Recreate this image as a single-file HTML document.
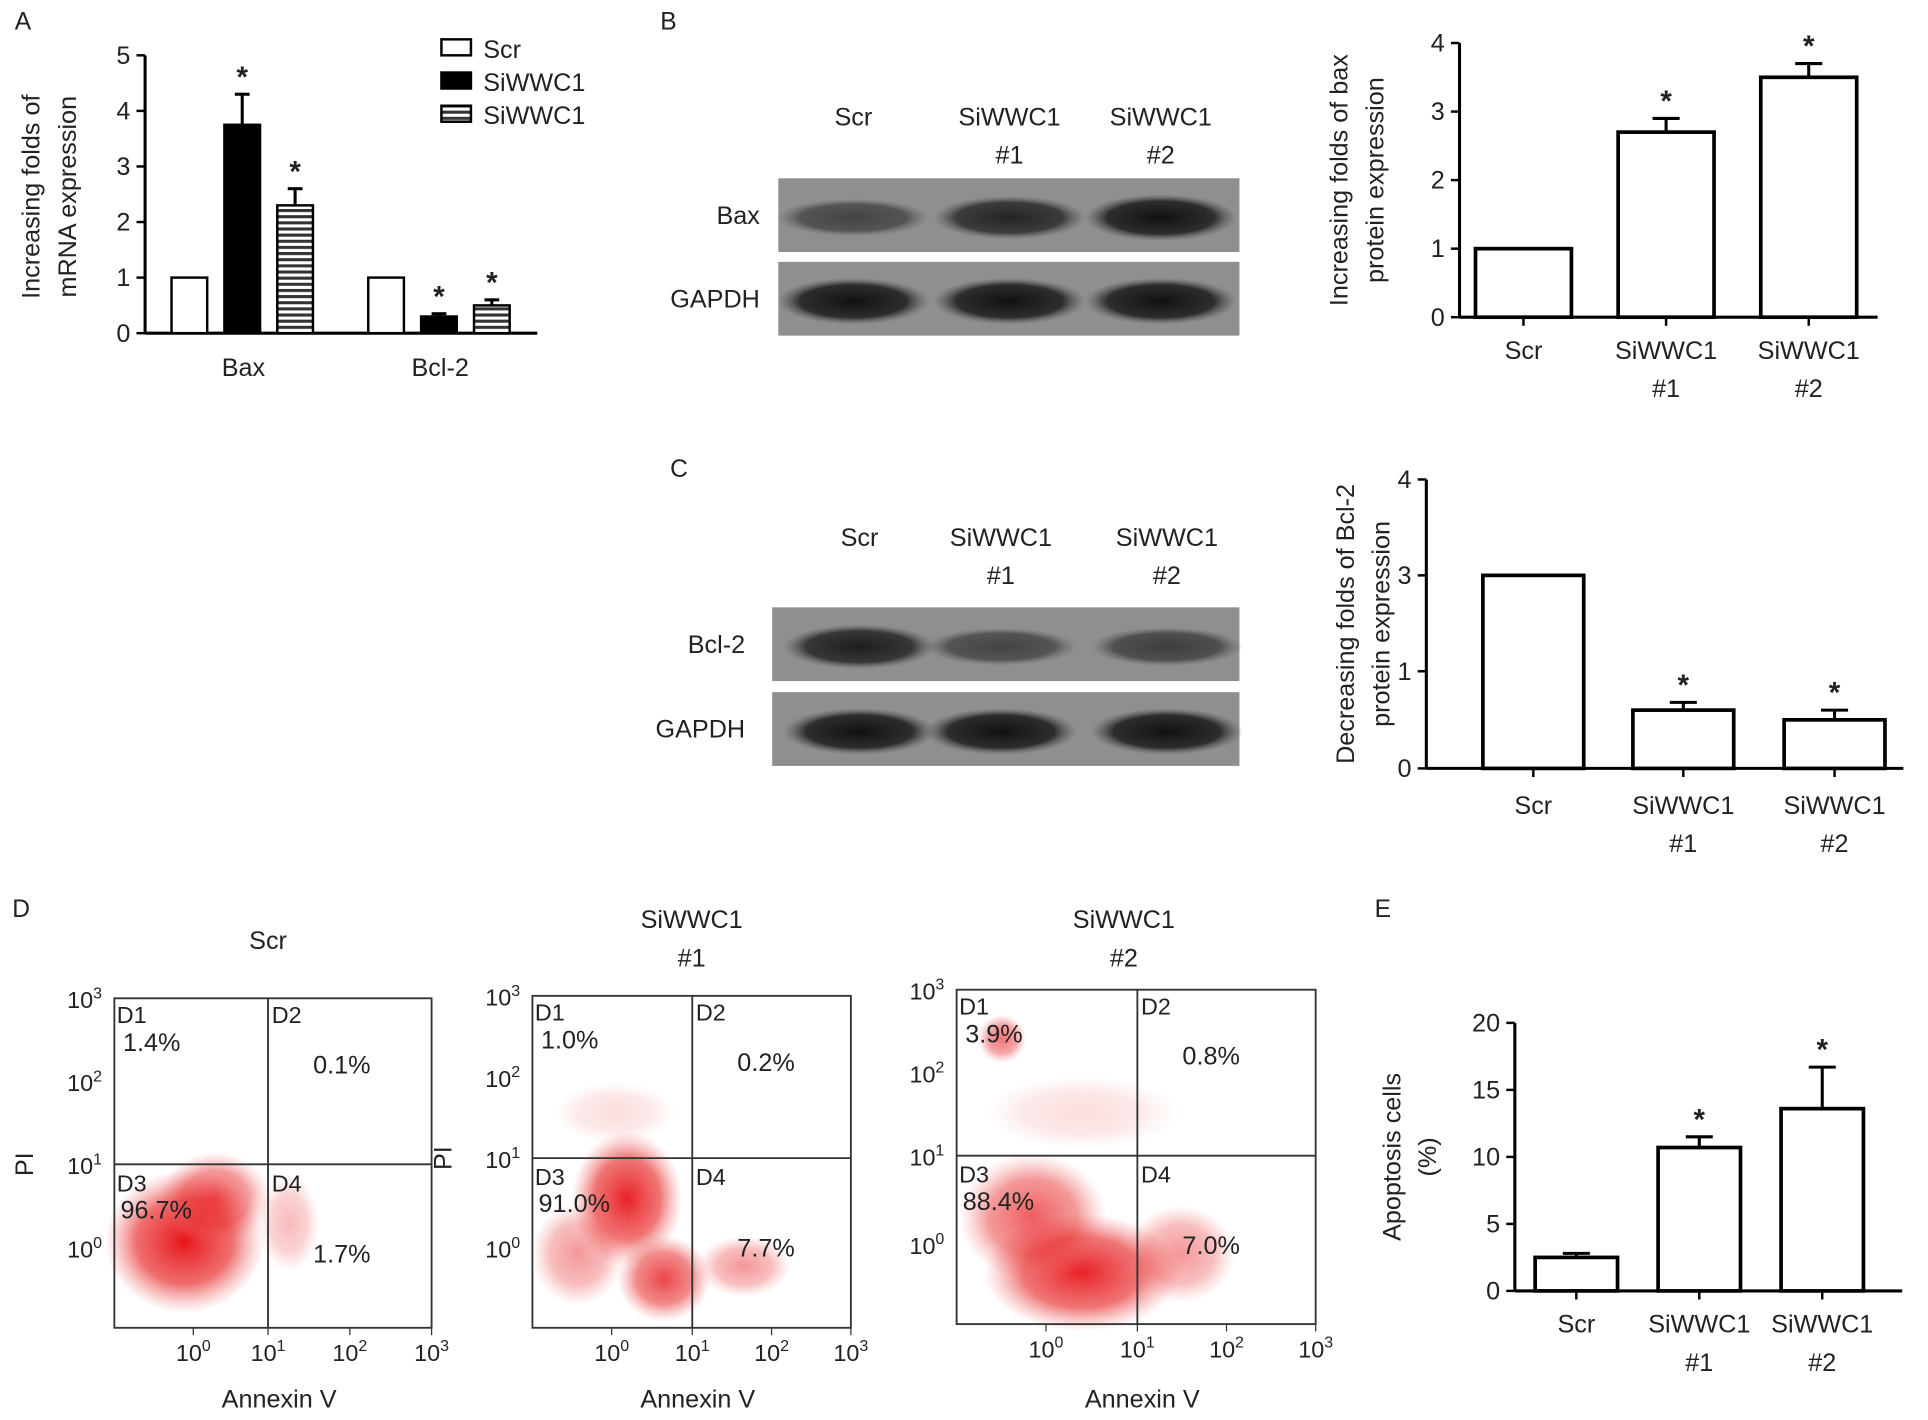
<!DOCTYPE html>
<html><head><meta charset="utf-8"><style>
html,body{margin:0;padding:0;background:#fff;width:1928px;height:1420px;overflow:hidden}
svg{display:block}
text{font-family:"Liberation Sans",sans-serif;fill:#222}
</style></head><body>
<svg id="fig" width="1928" height="1420" viewBox="0 0 1568 1155" preserveAspectRatio="none" xmlns="http://www.w3.org/2000/svg">
<defs>
<pattern id="stripe" width="6" height="5" patternUnits="userSpaceOnUse"><rect width="6" height="5" fill="#fff"/><rect width="6" height="2.5" fill="#333"/></pattern>
<radialGradient id="redg"><stop offset="0" stop-color="#e8161b" stop-opacity="1"/><stop offset="0.6" stop-color="#e83030" stop-opacity="0.7"/><stop offset="1" stop-color="#f07070" stop-opacity="0"/></radialGradient>
<radialGradient id="bandg"><stop offset="0" stop-color="#111"/><stop offset="0.7" stop-color="#222" stop-opacity="0.9"/><stop offset="1" stop-color="#555" stop-opacity="0"/></radialGradient>
</defs>
</svg>
<script>
// ---------- data ----------
const aCategories=["Bax","Bcl-2"];
const aScr=[1,1];
const aSi1=[3.75,0.3];
const aSi1Err=[4.3,0.35];
const aSi2=[2.3,0.5];
const aSi2Err=[2.6,0.6];
const aTicks=[0,1,2,3,4,5];
const bCategories=["Scr","SiWWC1|#1","SiWWC1|#2"];
const bValues=[1,2.7,3.5];
const bErr=[1,2.9,3.7];
const bTicks=[0,1,2,3,4];
const cCategories=["Scr","SiWWC1|#1","SiWWC1|#2"];
const cValues=[3,0.6,0.5];
const cErr=[3,0.68,0.6];
const cTicks=[0,1,3,4];
const eCategories=["Scr","SiWWC1|#1","SiWWC1|#2"];
const eValues=[2.5,10.7,13.6];
const eErr=[2.8,11.5,16.7];
const eTicks=[0,5,10,15,20];
const bBands=[0.6,0.85,1];
const cBands=[0.9,0.6,0.65];
const dTitles=["Scr","SiWWC1|#1","SiWWC1|#2"];
const dQ1=["1.4%","1.0%","3.9%"];
const dQ2=["0.1%","0.2%","0.8%"];
const dQ3=["96.7%","91.0%","88.4%"];
const dQ4=["1.7%","7.7%","7.0%"];

const svg=document.getElementById('fig');
const NS="http://www.w3.org/2000/svg";
function mk(tag,attrs,parent){const e=document.createElementNS(NS,tag);for(const k in attrs)e.setAttribute(k,attrs[k]);(parent||svg).appendChild(e);return e;}
function txt(x,y,s,size,anchor,parent,extra){const e=mk('text',Object.assign({x:x,y:y,'font-size':size,'text-anchor':anchor||'middle'},extra||{}),parent);e.textContent=s;return e;}

function grp(name){const g=mk('g',{});return g;}

[["A",12,24],["B",537,24],["C",545,388],["D",10,746],["E",1118,746]].forEach(p=>{const t=txt(p[1],p[2],p[0],20,'start');});

const FS=20.5;
function yAxis(g,x,y0,y1,ticks,scale,fs){mk('line',{x1:x,y1:y0,x2:x,y2:y1,stroke:'#000','stroke-width':2.5},g);
 ticks.forEach(t=>{const y=scale(t);mk('line',{x1:x-7,y1:y,x2:x,y2:y,stroke:'#000','stroke-width':2},g);const l=txt(x-12,y+7,String(t),fs,'end',g);});}
function catLabel(g,x,y,s,fs){s.split('|').forEach((p,i)=>{const l=txt(x,y+i*31,p,fs,'middle',g);});}
function star(g,x,capY){const s=txt(x,capY-6,'*',24,'middle',g,{'font-weight':'bold'});}
function errBar(g,x,yTop,yBase,w){mk('line',{x1:x,y1:yTop,x2:x,y2:yBase,stroke:'#000','stroke-width':2.5},g);mk('line',{x1:x-w,y1:yTop,x2:x+w,y2:yTop,stroke:'#000','stroke-width':2.5},g);}

// ---------- Panel A ----------
(function(){const g=grp('chart-a-mrna');
 const x0=118,yB=271,yT=45;const sy=v=>yB-(yB-yT)*v/5;
 yAxis(g,x0,yT,yB,aTicks,sy,FS);
 mk('line',{x1:x0,y1:yB,x2:437,y2:yB,stroke:'#000','stroke-width':2.5},g);
 const centers=[198,358];const bw=29;
 aCategories.forEach((c,i)=>{const cx=centers[i];
  const series=[[aScr[i],null,'#fff'],[aSi1[i],aSi1Err[i],'#000'],[aSi2[i],aSi2Err[i],'url(#stripe)']];
  series.forEach((s,j)=>{const bx=cx-58+j*43-bw/2+14;const y=sy(s[0]);
   if(s[1]!==null){errBar(g,bx+bw/2,sy(s[1]),y,6);star(g,bx+bw/2,sy(s[1]));}
   const r=mk('rect',{x:bx,y:y,width:bw,height:yB-y,fill:s[2],stroke:'#000','stroke-width':2},g);
   
   });
  catLabel(g,cx,306,c,FS);});
 const yt=txt(0,0,'Increasing folds of',FS,'middle',g,{transform:'translate(32,160) rotate(-90)'});
 
 txt(0,0,'mRNA expression',FS,'middle',g,{transform:'translate(62,160) rotate(-90)'});
 const lg=grp('legend');
 [['Scr','#fff',39],['SiWWC1','#000',66],['SiWWC1','url(#stripe)',93]].forEach(l=>{const r=mk('rect',{x:359,y:l[2]-7,width:24,height:13,fill:l[1],stroke:'#000','stroke-width':2},lg);const t=txt(393,l[2]+8,l[0],FS,'start',lg);});
})();

// ---------- blots ----------
function blot(name,x,w,rows,labels,lx,cols,colY,bands){const g=grp(name);
 cols.forEach(c=>catLabel(g,c[0],colY,c[1],FS));
 rows.forEach((r,i)=>{mk('rect',{x:x,y:r[0],width:w,height:r[1],fill:'#8f8f8f'},g);
  const lab=txt(lx[i],r[0]+r[1]/2+7,labels[i],FS,'end',g);
  cols.forEach((c,j)=>{const inten=i==0?bands[j]:1;const e=mk('ellipse',{cx:c[0],cy:r[0]+r[1]/2+2,rx:62,ry:10+9*inten,fill:'url(#bandg)',opacity:inten},g);});});
}
blot('western-blot-bax',633,375,[[145,60],[213,60]],['Bax','GAPDH'],[618,618],[[694,'Scr'],[821,'SiWWC1|#1'],[944,'SiWWC1|#2']],102,bBands);
blot('western-blot-bcl2',628,380,[[494,60],[563,60]],['Bcl-2','GAPDH'],[606,606],[[699,'Scr'],[814,'SiWWC1|#1'],[949,'SiWWC1|#2']],444,cBands);

// ---------- bar charts B, C, E ----------
function barChart(name,x0,yT,yB,xEnd,ticks,cats,vals,errs,centers,bw,scale,title,tx,labY){const g=grp(name);
 yAxis(g,x0,yT,yB,ticks,scale,FS);
 mk('line',{x1:x0,y1:yB,x2:xEnd,y2:yB,stroke:'#000','stroke-width':2.5},g);
 cats.forEach((c,i)=>{const cx=centers[i];const y=scale(vals[i]);
  mk('line',{x1:cx,y1:yB,x2:cx,y2:yB+7,stroke:'#000','stroke-width':2},g);
  if(i>0){errBar(g,cx,scale(errs[i]),y,11);star(g,cx,scale(errs[i]));}
  else if(errs[i]>vals[i]){errBar(g,cx,scale(errs[i]),y,11);}
  const r=mk('rect',{x:cx-bw/2,y:y,width:bw,height:yB-y,fill:'#fff',stroke:'#000','stroke-width':3},g);
  
  
  catLabel(g,cx,labY,c,FS);});
 title.forEach((t,i)=>{const e=txt(0,0,t,FS,'middle',g,{transform:'translate('+(tx+i*29)+','+((yT+yB)/2)+') rotate(-90)'});});
}
barChart('chart-b-bax',1187,35,258,1527,bTicks,bCategories,bValues,bErr,[1239,1355,1471],78,v=>258-223*v/4,['Increasing folds of bax','protein expression'],1096,292);
(function(){const pos=[625,546,468,390];
 const sc=v=>{for(let i=0;i<cTicks.length-1;i++){if(v<=cTicks[i+1]){const f=(v-cTicks[i])/(cTicks[i+1]-cTicks[i]);return pos[i]+(pos[i+1]-pos[i])*f;}}return pos[pos.length-1];};
 barChart('chart-c-bcl2',1160,390,625,1548,cTicks,cCategories,cValues,cErr,[1247,1369,1492],82,sc,['Decreasing folds of Bcl-2','protein expression'],1101,662);})();
barChart('chart-e-apoptosis',1232,832,1050,1547,eTicks,eCategories,eValues,eErr,[1282,1382,1482],67,v=>1050-218*v/20,['Apoptosis cells','(%)'],1139,1084);

// ---------- flow cytometry ----------
const plots=[[93,812,351,1080,218,947,765],[433,810,692,1080,563,942,748],[778,805,1070,1077,925,940,748]];
const clouds=[
 [[150,1010,65,58,1],[175,975,45,38,0.7],[235,995,25,40,0.3]],
 [[510,975,45,55,0.95],[540,1040,38,35,0.8],[470,1020,38,42,0.45],[605,1030,38,25,0.45],[500,905,50,25,0.15]],
 [[880,1035,80,48,0.95],[840,990,60,52,0.7],[815,845,20,20,0.6],[960,1020,45,40,0.45],[880,905,80,30,0.15]]];
plots.forEach((p,k)=>{const g=grp('flow-plot-'+(k+1));
 const [x0,y0,x1,y1,qx,qy,ty]=p;
 clouds[k].forEach(c=>{const e=mk('ellipse',{cx:c[0],cy:c[1],rx:c[2],ry:c[3],fill:'url(#redg)',opacity:c[4]},g);});
 mk('rect',{x:x0,y:y0,width:x1-x0,height:y1-y0,fill:'none',stroke:'#333','stroke-width':1.5},g);
 mk('line',{x1:qx,y1:y0,x2:qx,y2:y1,stroke:'#333','stroke-width':1.5},g);
 mk('line',{x1:x0,y1:qy,x2:x1,y2:qy,stroke:'#333','stroke-width':1.5},g);
 catLabel(g,(k==0?218:(x0+x1)/2-(k==2?10:0)),(k==0?772:755),dTitles[k],FS);
 txt(x0+2,y0+20,'D1',19,'start',g);txt(qx+3,y0+20,'D2',19,'start',g);
 txt(x0+2,qy+22,'D3',19,'start',g);txt(qx+3,qy+22,'D4',19,'start',g);
 [[x0+7,y0+43,dQ1[k]],[qx+60,y0+61,dQ2[k]],[x0+5,qy+44,dQ3[k]],[qx+60,qy+80,dQ4[k]]].forEach((q,i)=>{const t=txt(q[0],q[1],q[2],FS,i%2?'middle':'start',g);});
 const dec=(x1-x0)/4.2;const xs=[x0+0.95*dec*1.1,qx,qx+(x1-qx)/2,x1];
 ['0','1','2','3'].forEach((e,i)=>{const t=txt(xs[i],y1+27,'10',19,'middle',g);const s=mk('tspan',{dy:-8,'font-size':13},t);s.textContent=e;mk('line',{x1:xs[i],y1:y1,x2:xs[i],y2:y1+6,stroke:'#333'},g);});
 const ys=[y1-65,qy,qy-(qy-y0)/2,y0];
 ['0','1','2','3'].forEach((e,i)=>{const t=txt(x0-10,ys[i]+8,'10',19,'end',g);const s=mk('tspan',{dy:-8,'font-size':13},t);s.textContent=e;});
 const xl=txt((x0+x1)/2+5,1145,'Annexin V',FS,'middle',g);
 if(k<2){const pl=txt(0,0,'PI',FS,'middle',g,{transform:'translate('+(x0-66)+','+qy+') rotate(-90)'});}
});
</script>
</body></html>
